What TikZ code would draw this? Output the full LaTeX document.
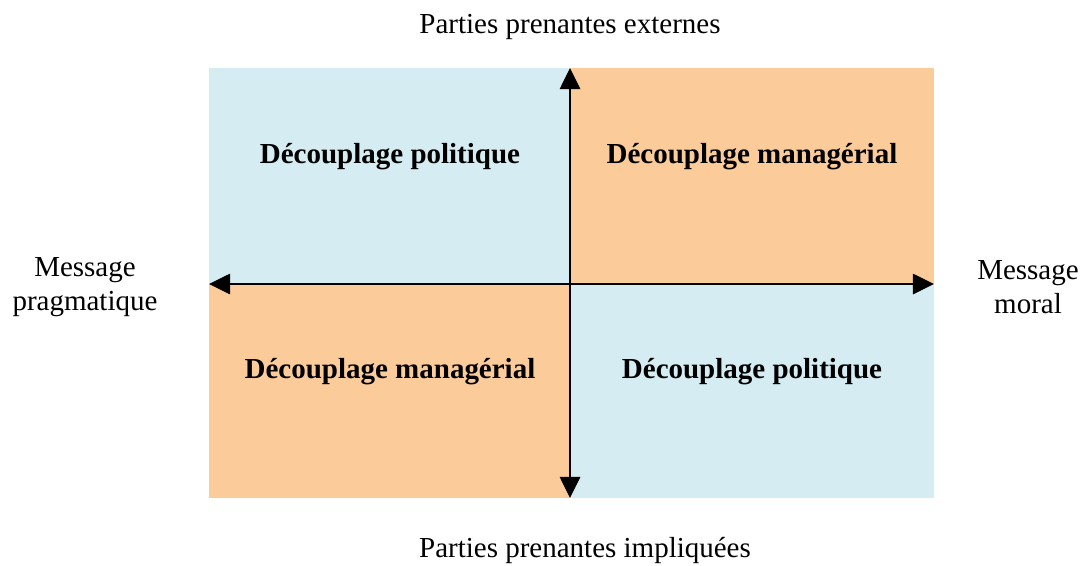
\documentclass[tikz,border=0pt]{standalone}
\usepackage{fontspec}
\setmainfont{Liberation Serif}
\usetikzlibrary{arrows.meta}
\definecolor{quadblue}{RGB}{212,236,242}
\definecolor{quadorange}{RGB}{251,203,154}

\begin{document}
\begin{tikzpicture}[x=0.02cm, y=-0.02cm,
    every node/.style={font=\fontsize{16.5}{19}\selectfont},
    quadlabel/.style={font=\fontsize{16.5}{19}\selectfont\bfseries},
    axis/.style={line width=1.3pt, -{Triangle[length=12pt, width=11.5pt]}}]
  \useasboundingbox (0,0) rectangle (1082,565);
  % Quadrants
  \fill[quadblue] (209,68) rectangle (570,284);
  \fill[quadorange] (570,68) rectangle (934,284);
  \fill[quadorange] (209,284) rectangle (570,498);
  \fill[quadblue] (570,284) rectangle (934,498);
  % Axis ends
  \coordinate (centre) at (570,284);
  \coordinate (haut) at (570,68);
  \coordinate (bas) at (570,498);
  \coordinate (gauche) at (209,284);
  \coordinate (droite) at (934,284);
  \draw[axis] (centre) -- (haut);
  \draw[axis] (centre) -- (bas);
  \draw[axis] (centre) -- (gauche);
  \draw[axis] (centre) -- (droite);
  % Quadrant labels
  \node[quadlabel] (hg) at (390,157) {Découplage politique};
  \node[quadlabel] (hd) at (752,157) {Découplage managérial};
  \node[quadlabel] (bg) at (390,372) {Découplage managérial};
  \node[quadlabel] (bd) at (752,372) {Découplage politique};
  % Axis labels
  \node (externes) at (570,27) {Parties prenantes externes};
  \node (impliquees) at (585,550) {Parties prenantes impliquées};
  \node[align=center] (pragma) at (85,287) {Message\\pragmatique};
  \node[align=center] (moral) at (1028,287) {Message\\moral};
\end{tikzpicture}
\end{document}
